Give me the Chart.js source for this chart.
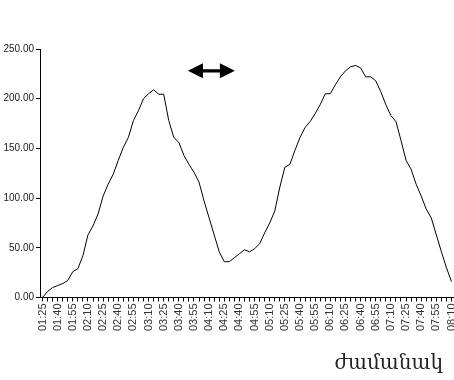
<!DOCTYPE html>
<html>
<head>
<meta charset="utf-8">
<script src="https://cdn.jsdelivr.net/npm/chart.js@4/dist/chart.umd.min.js"></script>
<style>
  html, body { margin: 0; padding: 0; background: #fff; }
  #wrap { width: 454px; height: 380px; position: relative; }
</style>
</head>
<body>
<div id="wrap"><canvas id="c"></canvas></div>
<script>
const categories = ["01:25","01:30","01:35","01:40","01:45","01:50","01:55","02:00","02:05","02:10","02:15","02:20","02:25","02:30","02:35","02:40","02:45","02:50","02:55","03:00","03:05","03:10","03:15","03:20","03:25","03:30","03:35","03:40","03:45","03:50","03:55","04:00","04:05","04:10","04:15","04:20","04:25","04:30","04:35","04:40","04:45","04:50","04:55","05:00","05:05","05:10","05:15","05:20","05:25","05:30","05:35","05:40","05:45","05:50","05:55","06:00","06:05","06:10","06:15","06:20","06:25","06:30","06:35","06:40","06:45","06:50","06:55","07:00","07:05","07:10","07:15","07:20","07:25","07:30","07:35","07:40","07:45","07:50","07:55","08:00","08:05","08:10"];

const values = [0,6,10,12,14,17,26,29,42,63,72,84,102,114,124,138,151,161,178,188,200,205,209,204.5,204.5,178,161,156,143,134,126,116,97,80,63,46,36,36,40,44,48,46,49,54,65,75,87,111,131,134,148,161,171,177,185,194,205,205,214,222,228,232,233.5,231,222,222,218,207,194,183,177,158,138,129,114,102,89,80,63,46,30,16];

const yTicks = [0, 50, 100, 150, 200, 250];
const xAxisTitle = "ժամանակ";
// double-headed arrow annotation (category index range, value level)
const arrowFrom = 28.8;
const arrowTo = 38.1;
const arrowLevel = 228;

const arrowPlugin = {
  id: 'arrow',
  afterDatasetsDraw(chart) {
    const ctx = chart.ctx;
    const xs = chart.scales.x, ys = chart.scales.y;
    const x1 = xs.getPixelForValue(arrowFrom);
    const x2 = xs.getPixelForValue(arrowTo);
    const y = ys.getPixelForValue(arrowLevel);
    const head = 15, half = 7.5, shaft = 1.6;
    ctx.save();
    ctx.fillStyle = '#000';
    ctx.beginPath();
    ctx.moveTo(x1, y);
    ctx.lineTo(x1 + head, y - half);
    ctx.lineTo(x1 + head, y - shaft);
    ctx.lineTo(x2 - head, y - shaft);
    ctx.lineTo(x2 - head, y - half);
    ctx.lineTo(x2, y);
    ctx.lineTo(x2 - head, y + half);
    ctx.lineTo(x2 - head, y + shaft);
    ctx.lineTo(x1 + head, y + shaft);
    ctx.lineTo(x1 + head, y + half);
    ctx.closePath();
    ctx.fill();
    ctx.restore();
  }
};

const titlePlugin = {
  id: 'xtitle',
  afterDraw(chart) {
    const ctx = chart.ctx;
    const a = chart.chartArea;
    ctx.save();
    ctx.font = '20px "DejaVu Serif", "DejaVu Sans", serif';
    ctx.fillStyle = '#222';
    ctx.textAlign = 'right';
    ctx.textBaseline = 'alphabetic';
    ctx.fillText(xAxisTitle, a.right - 11, a.bottom + 72);
    ctx.restore();
  }
};

new Chart(document.getElementById('c'), {
  type: 'line',
  data: {
    labels: categories,
    datasets: [{
      data: values,
      borderColor: '#000',
      borderWidth: 1,
      pointRadius: 0,
      tension: 0,
      fill: false
    }]
  },
  options: {
    responsive: true,
    maintainAspectRatio: false,
    animation: false,
    devicePixelRatio: 1,
    layout: { padding: { top: 49, right: 0, bottom: 47, left: 0 } },
    plugins: { legend: { display: false }, tooltip: { enabled: false } },
    scales: {
      x: {
        type: 'category',
        offset: true,
        afterFit: (s) => { s.paddingRight = 0; s.paddingLeft = 0; },
        grid: { display: true, drawOnChartArea: false, drawTicks: true, tickLength: 4, color: '#000' },
        border: { display: true, color: '#000', width: 1 },
        ticks: {
          autoSkip: false,
          maxRotation: 90,
          minRotation: 90,
          padding: 2,
          color: '#333',
          font: { family: 'Liberation Sans, Arial, sans-serif', size: 11 },
          callback: function(v, i) { return i % 3 === 0 ? categories[i] : ''; }
        }
      },
      y: {
        min: 0,
        max: 250,
        afterBuildTicks: (s) => { s.ticks = yTicks.map(v => ({ value: v })); },
        afterFit: (s) => { s.width = 40; s.paddingTop = 0; s.paddingBottom = 0; },
        grid: { display: true, drawOnChartArea: false, drawTicks: true, tickLength: 4, color: '#000' },
        border: { display: true, color: '#000', width: 1 },
        ticks: {
          padding: 2,
          color: '#222',
          font: { family: '"Liberation Sans Narrow", "Arial Narrow", Arial, sans-serif', size: 10 },
          callback: (v) => Number(v).toFixed(2)
        }
      }
    }
  },
  plugins: [arrowPlugin, titlePlugin]
});
</script>
</body>
</html>
